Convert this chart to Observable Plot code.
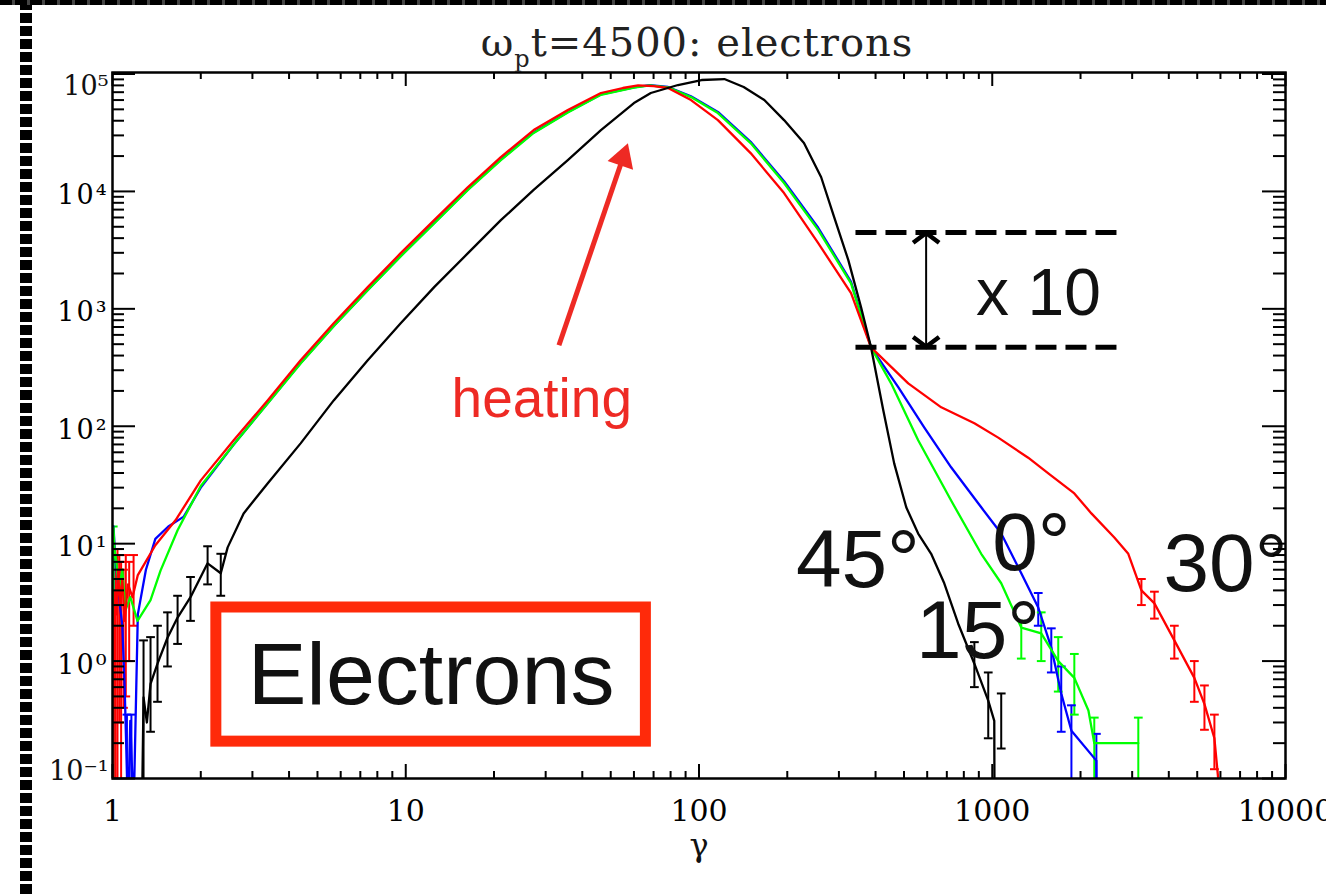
<!DOCTYPE html>
<html><head><meta charset="utf-8">
<script src="https://cdn.jsdelivr.net/npm/d3@7"></script>
<script src="https://cdn.jsdelivr.net/npm/@observablehq/plot@0.6"></script>
<style>
html,body{margin:0;padding:0;background:#fff;}
#wrap{position:relative;width:1326px;height:894px;overflow:hidden;background:#fff;}
#chart{position:absolute;left:0;top:0;}
#title{position:absolute;top:22px;left:0;width:1394px;text-align:center;font-family:"DejaVu Serif";font-size:40px;line-height:40px;letter-spacing:1px;color:#222;white-space:nowrap;}
#title .sub{font-size:24px;position:relative;top:11px;letter-spacing:1px;}
#lborder{position:absolute;left:20px;top:0;width:12px;height:894px;background:repeating-linear-gradient(to bottom,#000 0 10px,#fff 10px 13px);}
#tborder{position:absolute;left:0;top:0;width:1326px;height:5px;background:repeating-linear-gradient(to right,#000 0 12px,#444 12px 15px);}
g[aria-label="y-axis tick label"] text{letter-spacing:2px;}
</style></head>
<body>
<div id="wrap">
<div id="chart"></div>
<div id="title">ω<span class="sub">p</span>t=4500: electrons</div>
<div id="lborder"></div>
<div id="tborder"></div>
</div>
<script>
// ---- data ----
const angleNames = ["0°", "15°", "30°", "45°"];
const angleColors = ["#0000ff", "#00ff00", "#ff0000", "#000000"];

const gamma0 = [1.004, 1.008, 1.02, 1.04, 1.06, 1.08, 1.1, 1.13, 1.15, 1.18, 1.22, 1.3, 1.4, 1.55, 1.75, 2.0, 2.59, 3.38, 4.38, 5.68, 7.42, 9.61, 12.5, 16.3, 21.1, 27.3, 35.7, 46.3, 60, 68, 78.4, 93.9, 116, 150, 195, 255, 330, 386, 478, 586, 724, 917, 1073, 1256, 1435, 1590, 1719, 1862, 2265, 2268];
const f0 = [0.05, 14, 8, 5, 3, 2, 0.6, 0.05, 0.31, 0.05, 2.5, 6, 11, 14, 17, 30, 70, 157, 345, 715, 1450, 2820, 5400, 10400, 18700, 31800, 47500, 67000, 77000, 80500, 77500, 64500, 47500, 26500, 12200, 4900, 1700, 470, 215, 98, 44.7, 20.4, 12.2, 5.6, 2.86, 1.30, 0.53, 0.255, 0.142, 0.05];

const gamma15 = [1.004, 1.008, 1.015, 1.03, 1.05, 1.08, 1.107, 1.15, 1.217, 1.348, 1.458, 1.667, 2.0, 2.59, 3.38, 4.38, 5.68, 7.42, 9.61, 12.5, 16.3, 21.1, 27.3, 35.7, 46.3, 60, 68, 78.4, 93.9, 116, 150, 195, 255, 330, 386, 452, 559, 724, 917, 1073, 1256, 1469, 1679, 1905, 2128, 2228, 3148];
const f15 = [0.05, 13.7, 9, 7.2, 4, 6, 2.7, 3.5, 2.2, 3.3, 5.9, 13, 31, 70, 156, 342, 710, 1440, 2800, 5350, 10300, 18500, 31500, 47000, 66500, 76500, 80000, 77000, 63600, 46500, 25800, 11800, 4700, 1650, 470, 232, 75.9, 23.3, 8.2, 4.6, 1.93, 1.72, 1.0, 0.72, 0.38, 0.2, 0.2];

const gamma30 = [1.005, 1.012, 1.02, 1.03, 1.045, 1.06, 1.08, 1.1, 1.13, 1.17, 1.22, 1.4, 1.64, 2.0, 2.59, 3.38, 4.38, 5.68, 7.42, 9.61, 12.5, 16.3, 21.1, 27.3, 35.7, 46.3, 55, 62, 70, 78.4, 93.9, 116, 150, 195, 255, 330, 386, 517, 670, 869, 1048, 1326, 1553, 1905, 2178, 2608, 2910, 3226, 3573, 4178, 4888, 5292, 5722, 6050];
const f30 = [0.05, 1.5, 4, 2.5, 6, 3, 5, 2.2, 4.5, 3.5, 5.4, 9.7, 15.8, 34.6, 75.9, 166, 365, 754, 1530, 2980, 5690, 10900, 19600, 33300, 49400, 68900, 76000, 80000, 79000, 76000, 60000, 40500, 21200, 9690, 3630, 1360, 470, 232, 145, 106, 80, 54, 39.7, 26.8, 18.1, 11.3, 8.2, 4.0, 3.1, 1.5, 0.72, 0.43, 0.22, 0.05];

const gamma45 = [1.26, 1.276, 1.31, 1.348, 1.424, 1.54, 1.667, 1.845, 2.11, 2.34, 2.47, 2.80, 3.38, 4.38, 5.68, 7.42, 9.61, 12.5, 16.3, 21.1, 27.3, 35.7, 46.3, 60.0, 68.5, 84.8, 102, 122, 142, 167, 195, 228, 261, 289, 323, 357, 386, 425, 463, 509, 559, 619, 686, 765, 869, 969, 1016, 1018];
const f45 = [0.05, 0.49, 0.3, 0.64, 0.95, 1.58, 2.35, 3.5, 6.8, 5.6, 9.3, 18.1, 32.6, 71.5, 166, 365, 754, 1530, 2980, 5690, 10300, 18500, 33300, 56600, 68900, 80600, 88900, 90600, 77500, 60000, 40500, 25800, 13200, 6040, 2600, 1030, 470, 137, 48.3, 20.4, 12.2, 8.2, 4.6, 2.09, 0.95, 0.46, 0.31, 0.05];

// error bars (gamma, lower, upper) per angle
const errGamma0 = [1.12, 1.16, 1435, 1590, 1719, 1862, 2265];
const errLo0 = [0.05, 0.05, 2.0, 0.8, 0.25, 0.05, 0.05];
const errHi0 = [0.35, 0.35, 3.8, 1.9, 0.9, 0.42, 0.24];
const errGamma15 = [1.006, 1256, 1469, 1679, 1905, 2228, 3148];
const errLo15 = [0.05, 1.05, 1.0, 0.55, 0.35, 0.05, 0.05];
const errHi15 = [14, 2.2, 2.6, 1.6, 1.15, 0.33, 0.33];
const errGamma30 = [1.01, 1.025, 1.04, 1.055, 1.07, 1.09, 1.11, 1.14, 1.18, 3226, 3573, 4178, 4888, 5292, 5722];
const errLo30 = [0.05, 0.05, 0.05, 0.3, 0.05, 0.4, 0.5, 1.0, 2.0, 3.0, 2.3, 1.05, 0.45, 0.26, 0.12];
const errHi30 = [4, 7, 9, 8, 7, 6, 8, 7, 8, 5.0, 3.9, 2.0, 1.0, 0.62, 0.35];
const errGamma45 = [1.276, 1.348, 1.424, 1.54, 1.667, 1.845, 2.11, 2.34, 869, 969, 1073];
const errLo45 = [0.05, 0.25, 0.45, 0.9, 1.4, 2.2, 4.5, 3.6, 0.6, 0.22, 0.18];
const errHi45 = [1.5, 1.6, 2.0, 2.6, 3.6, 5.2, 9.5, 8.2, 1.45, 0.8, 0.53];

const xTickValues = [1, 10, 100, 1000, 10000];
const yTickValues = [0.1, 1, 10, 100, 1000, 10000, 100000];

// ---- build tables ----
const gammaList = [gamma0, gamma15, gamma30, gamma45];
const fList = [f0, f15, f30, f45];
const rows = angleNames.flatMap((a, k) => gammaList[k].map((g, i) => ({angle: a, gamma: g, f: fList[k][i]})));
const eG = [errGamma0, errGamma15, errGamma30, errGamma45];
const eL = [errLo0, errLo15, errLo30, errLo45];
const eH = [errHi0, errHi15, errHi30, errHi45];
const errRows = angleNames.flatMap((a, k) => eG[k].map((g, i) => ({angle: a, gamma: g, lo: eL[k][i], hi: eH[k][i]})));

const W = 1326, H = 894, mL = 112, mR = 41, mT = 72, mB = 116;
const pw = W - mL - mR, ph = H - mT - mB;
const steps = [2, 3, 4, 5, 6, 7, 8, 9];
const xMinor = xTickValues.slice(0, -1).flatMap(d => steps.map(k => d * k));
const yMinor = yTickValues.slice(0, -1).flatMap(d => steps.map(k => d * k));
const sup = {"-": "⁻", "0": "⁰", "1": "¹", "2": "²", "3": "³", "4": "⁴", "5": "⁵"};
const fmtY = d => "10" + String(Math.round(Math.log10(d))).split("").map(c => sup[c]).join("");

// open chevron used for the heads of the x10 double arrow
const chevron = {draw(ctx, size) { const r = Math.sqrt(size / Math.PI); ctx.moveTo(-r, r * 0.75); ctx.lineTo(0, 0); ctx.lineTo(r, r * 0.75); }};

const red = "#ee2a24";
const serif = "DejaVu Serif";
const sans = "Liberation Sans";

const plot = Plot.plot({
  width: W, height: H,
  marginLeft: mL, marginRight: mR, marginTop: mT, marginBottom: mB,
  x: {type: "log", domain: [1, 10000]},
  y: {type: "log", domain: [0.1, 1.03e5]},
  color: {domain: angleNames, range: angleColors},
  style: {background: "transparent", fontFamily: serif, color: "#000"},
  marks: [
    // error bars
    Plot.ruleX(errRows, {x: "gamma", y1: "lo", y2: "hi", stroke: "angle", strokeWidth: 2, clip: true}),
    Plot.link(errRows, {x1: d => d.gamma / 1.035, x2: d => d.gamma * 1.035, y1: "hi", y2: "hi", stroke: "angle", strokeWidth: 2, clip: true}),
    Plot.link(errRows.filter(d => d.lo > 0.1), {x1: d => d.gamma / 1.035, x2: d => d.gamma * 1.035, y1: "lo", y2: "lo", stroke: "angle", strokeWidth: 2, clip: true}),
    // spectra
    Plot.line(rows, {x: "gamma", y: "f", z: "angle", stroke: "angle", strokeWidth: 2.3, clip: true}),
    // x10 annotation
    Plot.ruleY([4470, 470], {y: d => d, x1: 343, x2: 2800, stroke: "#000", strokeWidth: 5, strokeDasharray: "21,9"}),
    Plot.ruleX([595], {x: d => d, y1: 475, y2: 4420, stroke: "#000", strokeWidth: 2}),
    Plot.dot([{g: 595, f: 4420, rot: 0}, {g: 595, f: 475, rot: 180}], {x: "g", y: "f", rotate: "rot", symbol: chevron, r: 13, fill: "none", stroke: "#000", strokeWidth: 4.5}),
    Plot.text([{g: 881, f: 881, t: "x 10"}], {x: "g", y: "f", text: "t", fontSize: 66, fontFamily: sans, textAnchor: "start", lineAnchor: "bottom", fill: "#111"}),
    // heating
    Plot.link([{x1: 33.3, y1: 490, x2: 55.0, y2: 19250}], {x1: "x1", y1: "y1", x2: "x2", y2: "y2", stroke: red, strokeWidth: 5}),
    Plot.dot([{g: 55.0, f: 19250}], {x: "g", y: "f", symbol: "triangle", r: 10, rotate: 19, fill: red, stroke: "none"}),
    Plot.text([{g: 29.1, f: 119, t: "heating"}], {x: "g", y: "f", text: "t", fontSize: 55, fontFamily: sans, textAnchor: "middle", lineAnchor: "bottom", fill: red}),
    // angle labels
    Plot.text([
      {g: 214, f: 4.24, t: "45°"},
      {g: 1000, f: 5.91, t: "0°"},
      {g: 550, f: 1.07, t: "15°"},
      {g: 3836, f: 3.99, t: "30°"}
    ], {x: "g", y: "f", text: "t", fontSize: 82, fontFamily: sans, textAnchor: "start", lineAnchor: "bottom", fill: "#111"}),
    // Electrons box
    Plot.rect([{x1: 2.26, x2: 65.9, y1: 0.206, y2: 2.86}], {x1: "x1", x2: "x2", y1: "y1", y2: "y2", fill: "#fff", stroke: "#ff2a0a", strokeWidth: 11}),
    Plot.text([{g: 12.2, f: 0.435, t: "Electrons"}], {x: "g", y: "f", text: "t", fontSize: 88, fontFamily: sans, textAnchor: "middle", lineAnchor: "bottom", fill: "#111"}),
    // frame and inward ticks
    Plot.frame({stroke: "#000", strokeWidth: 2.5}),
    Plot.tickX(xTickValues, {x: d => d, insetTop: ph - 14, strokeWidth: 2}),
    Plot.tickX(xMinor, {x: d => d, insetTop: ph - 7, strokeWidth: 2}),
    Plot.tickX(xTickValues, {x: d => d, insetBottom: ph - 14, strokeWidth: 2}),
    Plot.tickX(xMinor, {x: d => d, insetBottom: ph - 7, strokeWidth: 2}),
    Plot.tickY(yTickValues, {y: d => d, insetRight: pw - 23, strokeWidth: 2}),
    Plot.tickY(yMinor, {y: d => d, insetRight: pw - 12, strokeWidth: 2}),
    Plot.tickY(yTickValues, {y: d => d, insetLeft: pw - 23, strokeWidth: 2}),
    Plot.tickY(yMinor, {y: d => d, insetLeft: pw - 12, strokeWidth: 2}),
    // axes labels
    Plot.axisX(xTickValues, {anchor: "bottom", tickSize: 0, tickPadding: 21, fontSize: 30, fontFamily: serif, tickFormat: d => String(d), label: null}),
    Plot.axisY(yTickValues.slice(1, -1), {anchor: "left", tickSize: 0, tickPadding: 4, dy: 4, fontSize: 27, fontFamily: serif, tickFormat: fmtY, label: null}),
    Plot.text([1e5], {y: d => d, frameAnchor: "left", text: fmtY, textAnchor: "end", dx: -4, dy: 12, fontSize: 27, fontFamily: serif, fill: "#111"}),
    Plot.text([0.1], {y: d => d, frameAnchor: "left", text: fmtY, textAnchor: "end", dx: -4, dy: -7, fontSize: 27, fontFamily: serif, fill: "#111"}),
    Plot.text(["γ"], {frameAnchor: "bottom", text: d => d, dy: 77, fontSize: 32, fontFamily: serif, fill: "#111"})
  ]
});
document.getElementById("chart").appendChild(plot);
</script>
</body></html>
